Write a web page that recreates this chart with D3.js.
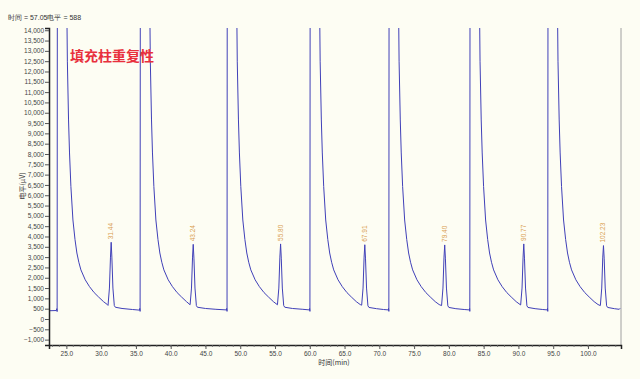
<!DOCTYPE html>
<html><head><meta charset="utf-8">
<script src="https://cdn.jsdelivr.net/npm/d3@7"></script>
<style>
html,body{margin:0;padding:0;background:#fdfdf3;}
svg{display:block;}
</style></head>
<body>
<svg id="c" width="640" height="379"></svg>
<script>
// ---------- data (time min, level µV) ----------
const yTicks = d3.range(-1000, 14001, 500);
const xTicks = [25,30,35,40,45,50,55,60,65,70,75,80,85,90,95,100];
const peakTimes = [31.44, 43.24, 55.80, 67.91, 79.40, 90.77, 102.23];
const peakLevels = [3720, 3620, 3640, 3600, 3590, 3640, 3560];
const peakLabels = ["31.44","43.24","55.80","67.91","79.40","90.77","102.23"];

const cycle1 = [[22.50,400],[23.55,410],[23.62,500],[23.67,360],[23.70,16000],[25.04,16000],[25.14,12500],[25.31,9650],[25.45,8050],[25.65,6420],[25.94,4800],[26.24,3850],[26.51,3200],[26.79,2750],[27.09,2380],[27.71,1900],[28.32,1570],[28.99,1280],[29.62,1070],[30.34,840],[30.89,700],[30.99,660],[31.19,1500],[31.34,3000],[31.44,3720],[31.54,3000],[31.69,1500],[31.89,650],[32.04,570],[33.0,510],[34.5,460],[35.5,430]];
const cycle2 = [[35.55,510],[35.60,370],[35.63,16000],[36.97,16000],[37.07,12500],[37.24,9650],[37.38,8050],[37.58,6420],[37.87,4800],[38.17,3850],[38.44,3200],[38.72,2750],[39.02,2380],[39.64,1900],[40.25,1570],[40.92,1280],[41.55,1070],[42.27,840],[42.79,690],[42.99,1500],[43.14,3000],[43.24,3620],[43.34,2950],[43.49,1500],[43.69,650],[43.84,570],[45.0,510],[46.5,470],[48.0,440]];
const cycle3 = [[48.05,510],[48.10,370],[48.13,16000],[49.47,16000],[49.57,12500],[49.74,9650],[49.88,8050],[50.08,6420],[50.37,4800],[50.67,3850],[50.94,3200],[51.22,2750],[51.52,2380],[52.14,1900],[52.75,1570],[53.42,1280],[54.05,1070],[54.77,840],[55.35,690],[55.55,1500],[55.70,3000],[55.80,3640],[55.90,2950],[56.05,1500],[56.25,650],[56.40,570],[57.5,510],[59.0,470],[59.95,440]];
const cycle4 = [[59.97,510],[60.02,370],[60.05,16000],[61.39,16000],[61.49,12500],[61.66,9650],[61.80,8050],[62.00,6420],[62.29,4800],[62.59,3850],[62.86,3200],[63.14,2750],[63.44,2380],[64.06,1900],[64.67,1570],[65.34,1280],[65.97,1070],[66.69,840],[67.25,700],[67.46,670],[67.66,1500],[67.81,3000],[67.91,3600],[68.01,2950],[68.16,1500],[68.36,640],[68.51,560],[69.6,500],[70.6,460],[71.3,440]];
const cycle5 = [[71.32,510],[71.37,370],[71.40,16000],[72.74,16000],[72.84,12500],[73.01,9650],[73.15,8050],[73.35,6420],[73.64,4800],[73.94,3850],[74.21,3200],[74.49,2750],[74.79,2380],[75.41,1900],[76.02,1570],[76.69,1280],[77.32,1070],[78.04,840],[78.60,700],[78.95,650],[79.15,1500],[79.30,3000],[79.40,3590],[79.50,2950],[79.65,1500],[79.85,640],[80.00,560],[81.0,500],[82.2,460],[82.95,440]];
const cycle6 = [[82.98,510],[83.01,370],[83.04,16000],[84.38,16000],[84.48,12500],[84.65,9650],[84.79,8050],[84.99,6420],[85.28,4800],[85.58,3850],[85.85,3200],[86.13,2750],[86.43,2380],[87.05,1900],[87.66,1570],[88.33,1280],[88.96,1070],[89.68,840],[90.32,680],[90.52,1500],[90.67,3000],[90.77,3640],[90.87,2950],[91.02,1500],[91.22,640],[91.37,560],[92.4,500],[93.5,460],[94.15,440]];
const cycle7 = [[94.18,510],[94.22,370],[94.25,16000],[95.59,16000],[95.69,12500],[95.86,9650],[96.00,8050],[96.20,6420],[96.49,4800],[96.79,3850],[97.06,3200],[97.34,2750],[97.64,2380],[98.26,1900],[98.87,1570],[99.54,1280],[100.17,1070],[100.89,840],[101.45,700],[101.78,650],[101.98,1500],[102.13,3000],[102.23,3560],[102.33,2950],[102.48,1500],[102.68,640],[102.83,560],[103.8,500],[104.5,470],[104.62,520]];
const cycles = [cycle1,cycle2,cycle3,cycle4,cycle5,cycle6,cycle7];

// ---------- layout ----------
const svg = d3.select("#c");
const L = 49, R = 621, T = 28, B = 345;
const x = d3.scaleLinear().domain([22.5, 104.75]).range([L, R]);
const y = d3.scaleLinear().domain([-1261, 14109]).range([B, T]);
const font = "'Liberation Sans', Arial, sans-serif";

svg.append("rect").attr("width",640).attr("height",379).attr("fill","#fdfdf3");

svg.append("defs").append("clipPath").attr("id","clip")
  .append("rect").attr("x",L).attr("y",T).attr("width",R-L).attr("height",B-T);

// right frame line
svg.append("line").attr("x1",R).attr("x2",R).attr("y1",T).attr("y2",B)
  .attr("stroke","#a0a0a0").attr("stroke-width",1);

// trace
const line = d3.line().x(d=>x(d[0])).y(d=>y(d[1]));
const all = cycles.flat();
svg.append("path").datum(all).attr("clip-path","url(#clip)")
  .attr("d",line).attr("fill","none").attr("stroke","#4040b8").attr("stroke-width",1);

// peak labels
svg.append("g").selectAll("text").data(peakTimes).join("text")
  .attr("transform",(d,i)=>`translate(${x(d)+2},${y(peakLevels[i])-3}) rotate(-90)`)
  .attr("font-family",font).attr("font-size",6.5).attr("fill","#d9a050")
  .text((d,i)=>peakLabels[i]);

// y axis
const yAxis = d3.axisLeft(y).tickValues(yTicks).tickSize(4)
  .tickFormat(d3.format(","));
const gy = svg.append("g").attr("transform",`translate(${L},0)`).call(yAxis);
gy.select(".domain").attr("stroke","#222").attr("stroke-width",1.5);
gy.selectAll(".tick line").attr("stroke","#555");
gy.selectAll("text").attr("font-family",font).attr("font-size",6.5).attr("fill","#444").attr("x",-5);

// x axis
const xAxis = d3.axisBottom(x).tickValues(xTicks).tickSize(4).tickFormat(d3.format(".1f"));
const gx = svg.append("g").attr("transform",`translate(0,${B})`).call(xAxis);
gx.select(".domain").attr("stroke","#222").attr("stroke-width",1.5);
gx.selectAll(".tick line").attr("stroke","#555");
gx.selectAll("text").attr("font-family",font).attr("font-size",6.5).attr("fill","#444").attr("y",6);
// minor ticks
svg.append("g").selectAll("line").data(d3.range(23,105,1)).join("line")
  .attr("x1",d=>x(d)).attr("x2",d=>x(d)).attr("y1",B).attr("y2",B+2)
  .attr("stroke","#666").attr("stroke-width",0.8);

// titles
svg.append("text").attr("x",8).attr("y",20).attr("font-family",font).attr("font-size",7)
  .attr("fill","#333").text("时间 = 57.05电平 = 588");
svg.append("text").attr("x",70).attr("y",61).attr("font-family","'Noto Sans CJK SC', sans-serif")
  .attr("font-weight","bold").attr("font-size",14).attr("fill","#e8303c").text("填充柱重复性");
svg.append("text").attr("transform","translate(25,186) rotate(-90)").attr("text-anchor","middle")
  .attr("font-family","'Noto Sans CJK SC', sans-serif").attr("font-size",7).attr("fill","#333").text("电平(μV)");
svg.append("text").attr("x",334).attr("y",365).attr("text-anchor","middle")
  .attr("font-family","'Noto Sans CJK SC', sans-serif").attr("font-size",7).attr("fill","#333").text("时间(min)");
</script>
</body></html>
